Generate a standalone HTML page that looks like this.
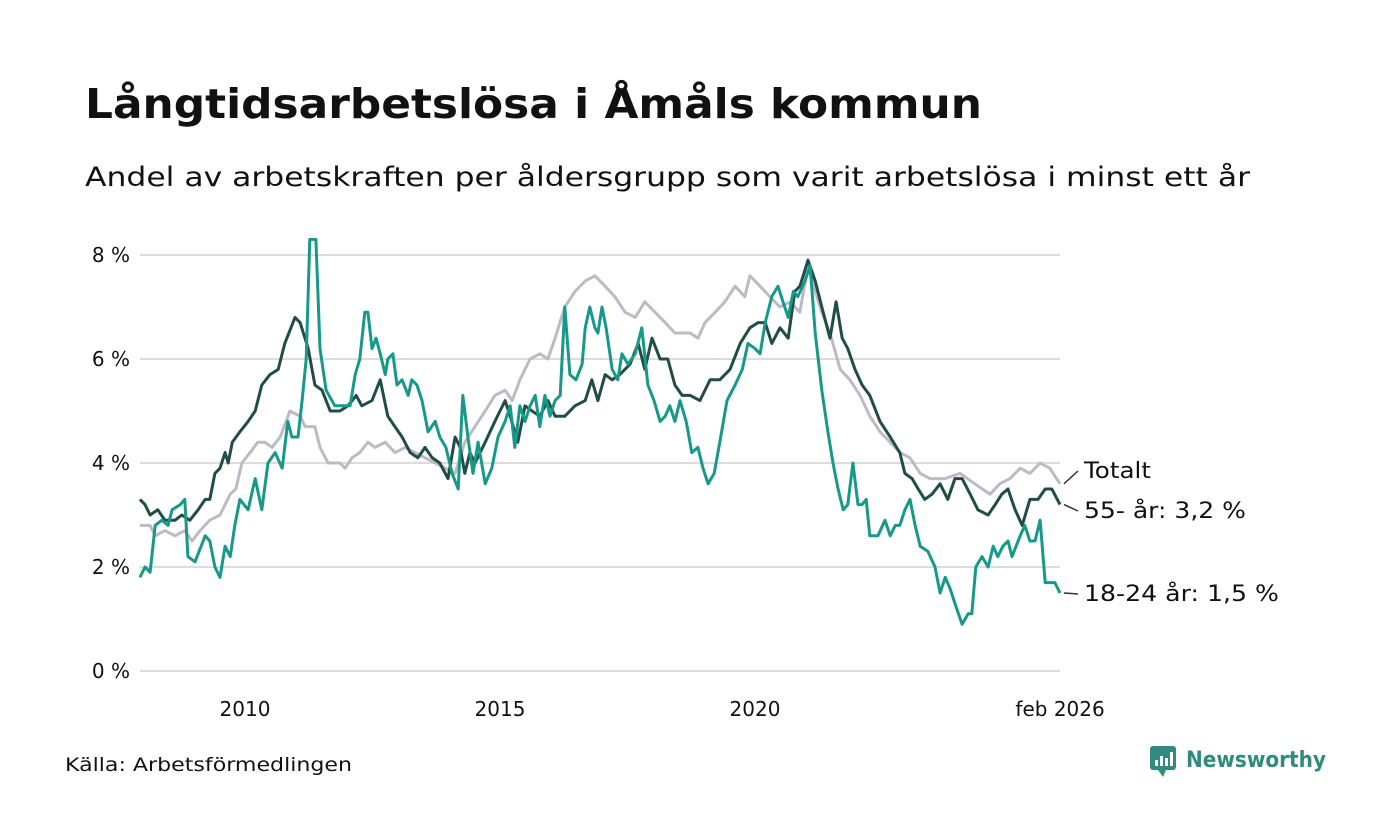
<!DOCTYPE html>
<html><head><meta charset="utf-8"><style>
html,body{margin:0;padding:0;background:#fff;}
svg{display:block;font-family:"DejaVu Sans","Liberation Sans",sans-serif;}
</style></head><body>
<svg id="chart" width="1400" height="840" viewBox="0 0 1400 840" xmlns="http://www.w3.org/2000/svg">
<text x="85" y="118" font-size="41" font-weight="bold" fill="#111" textLength="897" lengthAdjust="spacingAndGlyphs">Långtidsarbetslösa i Åmåls kommun</text>
<text x="85" y="186" font-size="27" fill="#111" textLength="1165" lengthAdjust="spacingAndGlyphs">Andel av arbetskraften per åldersgrupp som varit arbetslösa i minst ett år</text>
<g id="grid"></g>
<g id="xaxis"></g>
<g id="series"></g>
<g id="labels"></g>
<text x="65" y="771" font-size="19" fill="#111" textLength="287" lengthAdjust="spacingAndGlyphs">Källa: Arbetsförmedlingen</text>
<g>
<rect x="1150" y="746" width="26" height="24" rx="3" fill="#2e8b7e"/>
<path d="M1158 770 L1163 777 L1166 770 Z" fill="#2e8b7e"/>
<rect x="1155" y="760" width="3" height="6" fill="#fff"/><rect x="1160" y="756" width="3" height="10" fill="#fff"/><rect x="1165" y="758" width="3" height="8" fill="#fff"/><rect x="1170" y="752" width="3" height="14" fill="#fff"/>
<text x="1186" y="767" font-size="22" font-weight="bold" fill="#2e8b7e" textLength="140" lengthAdjust="spacingAndGlyphs">Newsworthy</text>
</g>
</svg>
<script>
const yTicks=[0,2,4,6,8];
const yTickLabels=["0 %","2 %","4 %","6 %","8 %"];
const xTicks=[2010,2015,2020,2026.08];
const xTickLabels=["2010","2015","2020","feb 2026"];
const totalDates=[2007.94,2008.14,2008.24,2008.43,2008.63,2008.82,2008.96,2009.12,2009.31,2009.51,2009.71,2009.82,2009.94,2010.10,2010.25,2010.39,2010.53,2010.69,2010.88,2011.08,2011.18,2011.37,2011.47,2011.63,2011.86,2011.96,2012.10,2012.25,2012.41,2012.55,2012.75,2012.94,2013.14,2013.33,2013.53,2013.73,2013.92,2014.12,2014.31,2014.51,2014.71,2014.90,2015.10,2015.24,2015.39,2015.59,2015.78,2015.94,2016.08,2016.27,2016.47,2016.67,2016.86,2017.06,2017.25,2017.45,2017.65,2017.84,2018.04,2018.24,2018.43,2018.73,2018.88,2019.02,2019.22,2019.41,2019.61,2019.80,2019.90,2020.10,2020.29,2020.49,2020.69,2020.88,2021.04,2021.18,2021.31,2021.47,2021.67,2021.86,2022.06,2022.25,2022.45,2022.65,2022.84,2023.04,2023.24,2023.43,2023.73,2024.02,2024.31,2024.61,2024.80,2025.00,2025.20,2025.39,2025.59,2025.78,2025.98];
const totalValues=[2.8,2.8,2.6,2.7,2.6,2.7,2.5,2.7,2.9,3.0,3.4,3.5,4.0,4.2,4.4,4.4,4.3,4.5,5.0,4.9,4.7,4.7,4.3,4.0,4.0,3.9,4.1,4.2,4.4,4.3,4.4,4.2,4.3,4.2,4.1,4.0,3.9,3.8,4.4,4.7,5.0,5.3,5.4,5.2,5.6,6.0,6.1,6.0,6.4,7.0,7.3,7.5,7.6,7.4,7.2,6.9,6.8,7.1,6.9,6.7,6.5,6.5,6.4,6.7,6.9,7.1,7.4,7.2,7.6,7.4,7.2,7.0,7.1,6.9,7.8,7.3,6.9,6.5,5.8,5.6,5.3,4.9,4.6,4.4,4.2,4.1,3.8,3.7,3.7,3.8,3.6,3.4,3.6,3.7,3.9,3.8,4.0,3.9,3.6];
const olderDates=[2007.94,2008.04,2008.14,2008.29,2008.43,2008.63,2008.76,2008.92,2009.08,2009.22,2009.31,2009.41,2009.51,2009.61,2009.67,2009.75,2009.90,2010.06,2010.20,2010.33,2010.49,2010.65,2010.78,2010.98,2011.08,2011.24,2011.37,2011.51,2011.67,2011.86,2012.02,2012.18,2012.29,2012.49,2012.65,2012.80,2012.94,2013.08,2013.24,2013.39,2013.53,2013.67,2013.82,2013.98,2014.12,2014.22,2014.31,2014.41,2014.51,2014.71,2014.90,2015.10,2015.20,2015.35,2015.49,2015.63,2015.78,2015.94,2016.08,2016.27,2016.47,2016.67,2016.80,2016.92,2017.06,2017.20,2017.35,2017.55,2017.71,2017.84,2017.98,2018.14,2018.29,2018.43,2018.57,2018.73,2018.92,2019.12,2019.31,2019.51,2019.71,2019.90,2020.06,2020.20,2020.33,2020.49,2020.65,2020.78,2020.88,2021.04,2021.18,2021.31,2021.47,2021.59,2021.71,2021.82,2021.96,2022.10,2022.25,2022.45,2022.65,2022.84,2022.94,2023.08,2023.20,2023.33,2023.47,2023.63,2023.78,2023.92,2024.06,2024.22,2024.37,2024.57,2024.71,2024.84,2024.96,2025.10,2025.24,2025.39,2025.55,2025.69,2025.82,2025.98];
const olderValues=[3.3,3.2,3.0,3.1,2.9,2.9,3.0,2.9,3.1,3.3,3.3,3.8,3.9,4.2,4.0,4.4,4.6,4.8,5.0,5.5,5.7,5.8,6.3,6.8,6.7,6.2,5.5,5.4,5.0,5.0,5.1,5.3,5.1,5.2,5.6,4.9,4.7,4.5,4.2,4.1,4.3,4.1,4.0,3.7,4.5,4.3,3.8,4.2,4.0,4.4,4.8,5.2,4.9,4.4,5.1,5.0,4.9,5.2,4.9,4.9,5.1,5.2,5.6,5.2,5.7,5.6,5.7,5.9,6.3,5.8,6.4,6.0,6.0,5.5,5.3,5.3,5.2,5.6,5.6,5.8,6.3,6.6,6.7,6.7,6.3,6.6,6.4,7.3,7.4,7.9,7.5,7.0,6.4,7.1,6.4,6.2,5.8,5.5,5.3,4.8,4.5,4.2,3.8,3.7,3.5,3.3,3.4,3.6,3.3,3.7,3.7,3.4,3.1,3.0,3.2,3.4,3.5,3.1,2.8,3.3,3.3,3.5,3.5,3.2];
const youthDates=[2007.94,2008.04,2008.14,2008.24,2008.37,2008.49,2008.57,2008.73,2008.82,2008.88,2009.02,2009.22,2009.31,2009.41,2009.51,2009.61,2009.71,2009.80,2009.90,2010.06,2010.20,2010.33,2010.45,2010.59,2010.73,2010.84,2010.92,2011.04,2011.12,2011.20,2011.27,2011.39,2011.47,2011.59,2011.76,2011.90,2012.06,2012.16,2012.25,2012.35,2012.41,2012.49,2012.57,2012.65,2012.75,2012.80,2012.90,2012.98,2013.08,2013.20,2013.27,2013.37,2013.47,2013.59,2013.73,2013.82,2013.94,2014.06,2014.18,2014.27,2014.37,2014.47,2014.57,2014.71,2014.84,2014.96,2015.10,2015.20,2015.29,2015.39,2015.49,2015.59,2015.69,2015.78,2015.88,2015.98,2016.08,2016.18,2016.27,2016.37,2016.49,2016.61,2016.67,2016.76,2016.86,2016.92,2017.00,2017.08,2017.20,2017.31,2017.39,2017.51,2017.65,2017.78,2017.90,2018.02,2018.14,2018.24,2018.33,2018.43,2018.53,2018.65,2018.76,2018.88,2018.98,2019.08,2019.20,2019.31,2019.45,2019.61,2019.75,2019.86,2020.00,2020.10,2020.20,2020.33,2020.45,2020.55,2020.65,2020.75,2020.84,2020.98,2021.08,2021.18,2021.31,2021.43,2021.53,2021.63,2021.73,2021.82,2021.92,2022.02,2022.10,2022.18,2022.25,2022.41,2022.55,2022.65,2022.75,2022.84,2022.94,2023.04,2023.14,2023.24,2023.39,2023.53,2023.63,2023.73,2023.82,2023.92,2024.06,2024.18,2024.25,2024.33,2024.45,2024.57,2024.67,2024.76,2024.86,2024.96,2025.04,2025.20,2025.29,2025.39,2025.49,2025.59,2025.69,2025.88,2025.98];
const youthValues=[1.8,2.0,1.9,2.8,2.9,2.8,3.1,3.2,3.3,2.2,2.1,2.6,2.5,2.0,1.8,2.4,2.2,2.8,3.3,3.1,3.7,3.1,4.0,4.2,3.9,4.8,4.5,4.5,5.2,6.0,8.3,8.3,6.2,5.4,5.1,5.1,5.1,5.7,6.0,6.9,6.9,6.2,6.4,6.1,5.7,6.0,6.1,5.5,5.6,5.3,5.6,5.5,5.2,4.6,4.8,4.5,4.3,3.8,3.5,5.3,4.5,3.8,4.4,3.6,3.9,4.5,4.8,5.1,4.3,5.1,4.8,5.1,5.3,4.7,5.3,4.9,5.2,5.3,7.0,5.7,5.6,5.9,6.6,7.0,6.6,6.5,7.0,6.6,5.8,5.6,6.1,5.9,6.1,6.6,5.5,5.2,4.8,4.9,5.1,4.8,5.2,4.8,4.2,4.3,3.9,3.6,3.8,4.4,5.2,5.5,5.8,6.3,6.2,6.1,6.7,7.2,7.4,7.1,6.8,7.3,7.2,7.5,7.8,6.5,5.4,4.6,4.0,3.5,3.1,3.2,4.0,3.2,3.2,3.3,2.6,2.6,2.9,2.6,2.8,2.8,3.1,3.3,2.8,2.4,2.3,2.0,1.5,1.8,1.6,1.3,0.9,1.1,1.1,2.0,2.2,2.0,2.4,2.2,2.4,2.5,2.2,2.6,2.8,2.5,2.5,2.9,1.7,1.7,1.5];

const NS="http://www.w3.org/2000/svg";
function xs(y){return 245+(y-2010)*51;}
function ys(v){return 671-v*52;}
function mk(tag,attrs,parent){const e=document.createElementNS(NS,tag);for(const k in attrs)e.setAttribute(k,attrs[k]);parent.appendChild(e);return e;}
const grid=document.getElementById('grid');
yTicks.forEach((t,i)=>{
  const l=mk('line',{x1:140,x2:1060,y1:ys(t),y2:ys(t),stroke:'#dcdcdc','stroke-width':2},grid);
  
  
  const tx=mk('text',{x:130,y:ys(t)+7,'font-size':20,'text-anchor':'end',fill:'#111'},grid);
  tx.textContent=yTickLabels[i];
  
  
});
const xa=document.getElementById('xaxis');
xTicks.forEach((t,i)=>{
  const tx=mk('text',{x:xs(t)-(i===3?5:0),y:716,'font-size':20,'text-anchor':'middle',fill:'#111'},xa);
  tx.textContent=xTickLabels[i];
  
  
});
const sg=document.getElementById('series');
function line(d,v,color,name){
  const p=mk('polyline',{points:d.map((x,i)=>xs(x).toFixed(1)+','+ys(v[i]).toFixed(1)).join(' '),fill:'none',stroke:color,'stroke-width':3,'stroke-linejoin':'round'},sg);
  
  
}
line(totalDates,totalValues,'#bdbac6','line-totalt');
line(olderDates,olderValues,'#214d47','line-55-ar');
line(youthDates,youthValues,'#16998a','line-18-24-ar');
const lg=document.getElementById('labels');
function lab(d,v,ty,txt,w,name){
  const x0=xs(d[d.length-1])+4,y0=ys(v[v.length-1]);
  const l=mk('line',{x1:x0,y1:y0,x2:x0+14,y2:ty-7,stroke:'#333','stroke-width':1.5},lg);
  
  
  const t=mk('text',{x:x0+20,y:ty,'font-size':22,fill:'#111',textLength:w,lengthAdjust:'spacingAndGlyphs'},lg);
  t.textContent=txt;
  
  
}
lab(totalDates,totalValues,478,'Totalt',67,'label-totalt');
lab(olderDates,olderValues,518,'55- år: 3,2 %',162,'label-55-ar');
lab(youthDates,youthValues,601,'18-24 år: 1,5 %',195,'label-18-24-ar');
</script>
</body></html>
